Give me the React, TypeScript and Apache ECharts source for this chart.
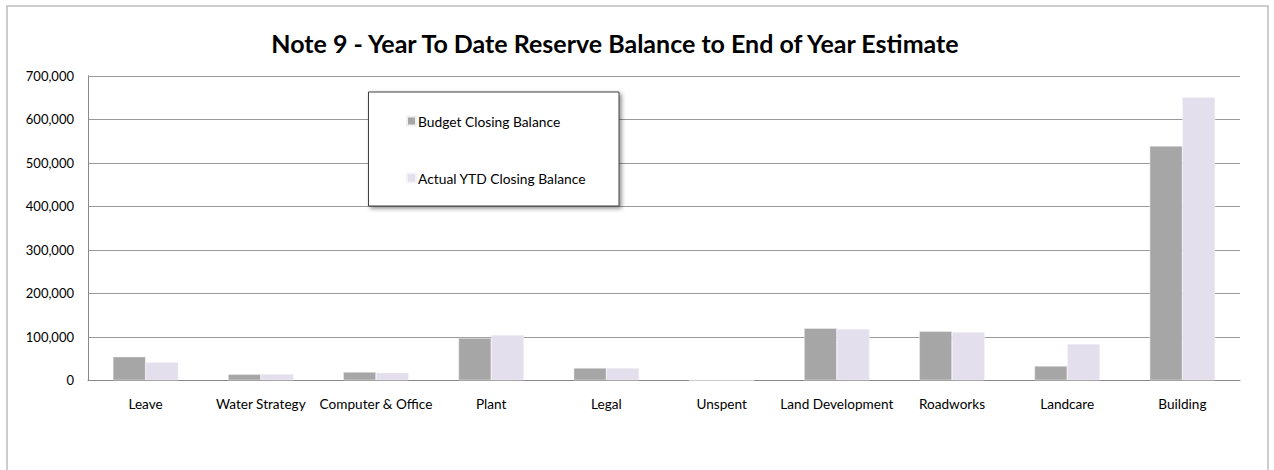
import React, { useEffect, useRef } from "react";
import * as echarts from "echarts";

const categories = [
  "Leave",
  "Water Strategy",
  "Computer & Office",
  "Plant",
  "Legal",
  "Unspent",
  "Land Development",
  "Roadworks",
  "Landcare",
  "Building",
];
const budgetClosing = [54300, 13800, 19100, 97200, 28300, 0, 119500, 112600, 32900, 538600];
const actualYtdClosing = [41400, 14500, 17500, 104100, 28300, 0, 117900, 111000, 83400, 650600];
const yTicks = [0, 100000, 200000, 300000, 400000, 500000, 600000, 700000];

const FONT = "Lato, 'Open Sans', sans-serif";

export default function App() {
  const ref = useRef<HTMLDivElement>(null);
  useEffect(() => {
    if (!ref.current) return;
    const chart = echarts.init(ref.current, undefined, { renderer: "svg" });
    chart.setOption({
      animation: false,
      backgroundColor: "#ffffff",
      textStyle: { fontFamily: FONT },
      title: {
        text: "Note 9 - Year To Date Reserve Balance to End of Year Estimate",
        left: 610,
        top: 25,
        textAlign: "center",
        textStyle: { fontFamily: FONT, fontSize: 25, fontWeight: "bold", color: "#000" },
      },
      graphic: [
        {
          type: "rect",
          shape: { x: 7, y: 6, width: 1261, height: 480 },
          style: { fill: "none", stroke: "#bdbdbd", lineWidth: 1.5 },
          z: 0,
        },
        {
          type: "rect",
          shape: { x: 368.5, y: 92, width: 250.5, height: 114 },
          style: {
            fill: "#ffffff",
            stroke: "#404040",
            lineWidth: 1,
            shadowColor: "rgba(0,0,0,0.45)",
            shadowBlur: 4,
            shadowOffsetX: 2,
            shadowOffsetY: 2,
          },
          z: 5,
        },
      ],
      legend: {
        orient: "vertical",
        left: 401,
        top: 109,
        itemWidth: 9,
        itemHeight: 9,
        itemGap: 43,
        icon: "rect",
        z: 10,
        textStyle: { fontFamily: FONT, fontSize: 13.8, color: "#000", padding: [0, 0, 0, -3] },
        data: ["Budget Closing Balance", "Actual YTD Closing Balance"],
      },
      grid: { left: 88, right: 34, top: 75.8, bottom: 89.7, containLabel: false },
      xAxis: {
        type: "category",
        data: categories,
        axisLine: { lineStyle: { color: "#888888", width: 1 } },
        axisTick: { show: false },
        axisLabel: { fontFamily: FONT, fontSize: 13.6, color: "#000", margin: 17, interval: 0 },
      },
      yAxis: {
        type: "value",
        min: yTicks[0],
        max: yTicks[yTicks.length - 1],
        interval: 100000,
        axisLine: { show: true, lineStyle: { color: "#888888", width: 1 } },
        axisTick: { show: false },
        splitLine: { lineStyle: { color: "#999999", width: 1 } },
        axisLabel: {
          fontFamily: FONT,
          fontSize: 13,
          color: "#000",
          margin: 14,
          formatter: (v: number) => (v === 0 ? "0" : v.toLocaleString("en-US")),
        },
      },
      series: [
        {
          name: "Budget Closing Balance",
          type: "bar",
          data: budgetClosing,
          barWidth: 32.7,
          barGap: "0%",
          itemStyle: { color: "#a6a6a6", borderColor: "#f0f0f0", borderWidth: 0.5 },
        },
        {
          name: "Actual YTD Closing Balance",
          type: "bar",
          data: actualYtdClosing,
          barWidth: 32.7,
          barGap: "0%",
          itemStyle: { color: "#e4dfec", borderColor: "#f4f2f8", borderWidth: 0.5 },
        },
      ],
    });
    return () => chart.dispose();
  }, []);
  return (
    <div
      ref={ref}
      style={{ position: "fixed", left: 0, top: 0, width: 1274, height: 470 }}
    />
  );
}
